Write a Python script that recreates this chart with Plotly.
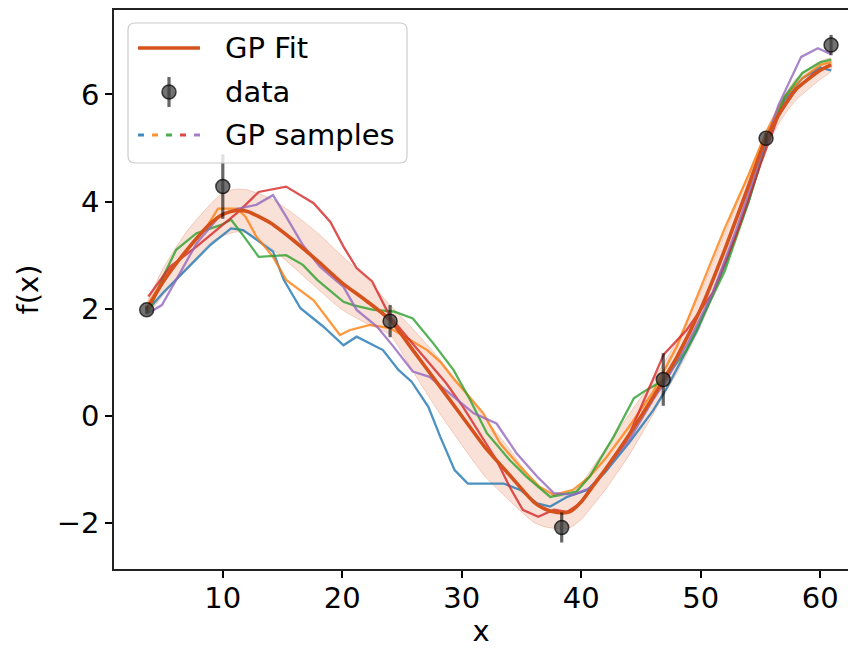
import plotly.graph_objects as go

# ---------------- data ----------------
data_x = [3.63, 10.0, 24.0, 38.36, 46.86, 55.46, 60.9]
data_y = [1.98, 4.28, 1.77, -2.08, 0.68, 5.18, 6.92]
data_err = [0.08, 0.6, 0.3, 0.28, 0.49, 0.1, 0.19]

fit_x = [3.63, 5, 7, 9, 10, 11, 12, 14, 16, 18, 20, 22, 24, 26, 28, 30, 32, 34, 36,
         37, 38, 39, 40, 41, 42, 44, 46, 46.8, 48, 50, 52, 54, 55.4, 57, 58, 60, 60.9]
fit_mean = [1.98, 2.5, 3.1, 3.6, 3.76, 3.83, 3.82, 3.6, 3.26, 2.88, 2.48, 2.15, 1.79, 1.2, 0.6,
            0.0, -0.6, -1.1, -1.6, -1.74, -1.8, -1.79, -1.6, -1.3, -1.0, -0.35, 0.35, 0.65, 1.1,
            2.0, 3.1, 4.3, 5.15, 5.8, 6.1, 6.45, 6.55]
fit_std = [0.12, 0.25, 0.35, 0.36, 0.4, 0.4, 0.4, 0.46, 0.5, 0.52, 0.5, 0.42, 0.28, 0.4, 0.5,
           0.54, 0.54, 0.48, 0.38, 0.33, 0.3, 0.3, 0.33, 0.36, 0.38, 0.38, 0.32, 0.3, 0.3,
           0.32, 0.3, 0.22, 0.15, 0.18, 0.2, 0.17, 0.12]

s1_x = [3.63, 5, 7, 9, 10.7, 11.7, 14.2, 15.1, 16.5, 18.4, 20.1, 21.2, 23.4, 24.7, 25.8, 27.2,
        28.2, 29.4, 30.5, 33.5, 34.9, 36.3, 37.4, 38.8, 40.5, 42, 44, 46, 47.1, 49.7, 52, 54,
        55.5, 57, 58.5, 60, 60.9]
s1_y = [1.95, 2.3, 2.75, 3.2, 3.5, 3.47, 3.07, 2.54, 2.01, 1.67, 1.32, 1.48, 1.23, 0.86, 0.64,
        0.17, -0.39, -1.01, -1.26, -1.26, -1.38, -1.63, -1.69, -1.51, -1.38, -1.05, -0.5, 0.1,
        0.5, 1.6, 2.8, 4.0, 5.1, 5.9, 6.3, 6.5, 6.45]

s2_x = [3.77, 5.5, 7.5, 8.65, 9.6, 11.2, 11.9, 12.8, 14.2, 15.3, 17.6, 19.8, 20.6, 22.3, 24.0,
        25.7, 27.1, 28.2, 29.4, 30.4, 31.8, 33.2, 34.9, 36.5, 37.7, 39.3, 40.7, 42, 44, 46, 48,
        50, 52, 54, 55.5, 57, 58.5, 60, 60.9]
s2_y = [2.1, 2.7, 3.22, 3.53, 3.87, 3.87, 3.72, 3.35, 2.97, 2.54, 2.16, 1.51, 1.6, 1.70, 1.64,
        1.42, 1.23, 1.01, 0.67, 0.42, 0.05, -0.51, -0.95, -1.32, -1.47, -1.38, -1.13, -0.8,
        -0.2, 0.45, 1.3, 2.4, 3.5, 4.5, 5.3, 5.95, 6.3, 6.55, 6.6]

s3_x = [3.77, 5.0, 6.1, 7.8, 9.8, 10.7, 11.9, 13.0, 15.3, 16.7, 17.9, 20.1, 20.9, 22.6, 24.3,
        25.9, 27.6, 29.3, 30.7, 32.1, 34.0, 35.4, 37.4, 39.6, 40.7, 42.7, 44.4, 45.2, 46.9,
        48.8, 49.9, 52, 54, 55.5, 57, 58.5, 60, 60.9]
s3_y = [1.92, 2.6, 3.1, 3.41, 3.56, 3.66, 3.31, 2.97, 3.0, 2.82, 2.54, 2.13, 2.07, 1.98, 1.95,
        1.82, 1.36, 0.86, 0.3, -0.32, -0.82, -1.13, -1.51, -1.41, -1.13, -0.39, 0.33, 0.45,
        0.67, 1.23, 1.73, 2.7, 4.0, 5.1, 5.95, 6.4, 6.6, 6.65]

s4_x = [3.77, 5.6, 7.8, 9.8, 11.3, 13.0, 15.3, 17.6, 19.0, 20.1, 21.2, 22.5, 24.0, 25.4, 27.1,
        28.7, 30.1, 31.5, 32.9, 34.0, 35.1, 36.4, 37.7, 38.8, 39.9, 40.7, 42, 43.8, 45, 46.9,
        48.8, 51, 53, 55, 56.5, 58, 59.5, 60.9]
s4_y = [2.23, 2.79, 3.16, 3.53, 3.81, 4.18, 4.28, 3.97, 3.62, 3.16, 2.76, 2.51, 1.85, 1.48,
        1.04, 0.61, 0.17, -0.32, -0.82, -1.32, -1.75, -1.88, -1.75, -1.79, -1.63, -1.38, -1.0,
        -0.45, 0.17, 1.15, 1.6, 2.3, 3.4, 4.7, 5.6, 6.1, 6.4, 6.55]

s5_x = [3.77, 4.9, 6.1, 7.8, 9.8, 11.3, 12.8, 14.2, 15.3, 16.7, 18.1, 20.1, 21.2, 22.9, 24.3,
        25.9, 27.3, 29.0, 31.0, 32.9, 34.6, 36.3, 37.7, 39.3, 40.7, 42, 44, 46, 47.1, 49, 51,
        53, 55, 56.5, 58.4, 59.8, 60.9]
s5_y = [1.92, 2.07, 2.54, 3.22, 3.75, 3.87, 3.94, 4.12, 3.72, 3.19, 2.79, 2.41, 1.98, 1.67,
        1.29, 0.83, 0.73, 0.42, 0.05, -0.14, -0.70, -1.13, -1.44, -1.47, -1.35, -1.0, -0.45,
        0.3, 0.67, 1.4, 2.3, 3.5, 4.8, 5.8, 6.7, 6.86, 6.75]

sample_colors = ["#1f77b4", "#ff7f0e", "#2ca02c", "#d62728", "#9467bd"]
samples = [(s1_x, s1_y), (s2_x, s2_y), (s3_x, s3_y), (s4_x, s4_y), (s5_x, s5_y)]

legend_labels = ["GP Fit", "data", "GP samples"]
x_ticks = [10, 20, 30, 40, 50, 60]
y_ticks = [-2, 0, 2, 4, 6]

FIT_COLOR = "#d6521c"
FONT = "DejaVu Sans"
FS = 29

# ---------------- layout geometry (pixels) ----------------
W, H = 848, 648
L, R, T, B = 114, 0, 10, 79
PW, PH = W - L - R, H - T - B


def px(x):
    return (x - L) / PW


def py(y):
    return (H - B - y) / PH


fig = go.Figure()

upper = [m + s for m, s in zip(fit_mean, fit_std)]
lower = [m - s for m, s in zip(fit_mean, fit_std)]
fig.add_trace(go.Scatter(x=fit_x + fit_x[::-1], y=upper + lower[::-1], fill="toself",
                         fillcolor="rgba(233,125,80,0.23)",
                         line=dict(color="rgba(215,120,80,0.3)", width=1, shape="spline",
                                   smoothing=0.6),
                         mode="lines", hoverinfo="skip", showlegend=False))

for (sx, sy), c in zip(samples, sample_colors):
    fig.add_trace(go.Scatter(x=sx, y=sy, mode="lines", line=dict(color=c, width=2.3),
                             opacity=0.8, showlegend=False))

fig.add_trace(go.Scatter(x=fit_x, y=fit_mean, mode="lines",
                         line=dict(color=FIT_COLOR, width=3.6, shape="spline", smoothing=0.6),
                         showlegend=False))

fig.add_trace(go.Scatter(x=data_x, y=data_y, mode="markers",
                         marker=dict(size=14, color="rgba(60,60,60,0.72)",
                                     line=dict(color="rgba(0,0,0,0.7)", width=1.5)),
                         error_y=dict(type="data", array=data_err, visible=True,
                                      color="rgba(0,0,0,0.6)", thickness=3.2, width=0),
                         showlegend=False))

# ---------------- custom legend ----------------
x0, x1, y0, y1 = px(128), px(407), py(163), py(23)
rx, ry = 7 / PW, 7 / PH
path = (f"M {x0+rx},{y0} L {x1-rx},{y0} Q {x1},{y0} {x1},{y0+ry} "
        f"L {x1},{y1-ry} Q {x1},{y1} {x1-rx},{y1} L {x0+rx},{y1} Q {x0},{y1} {x0},{y1-ry} "
        f"L {x0},{y0+ry} Q {x0},{y0} {x0+rx},{y0} Z")
shapes = [dict(type="path", path=path, xref="paper", yref="paper",
               fillcolor="rgba(255,255,255,0.8)", line=dict(color="#cccccc", width=1.2),
               layer="above")]
shapes.append(dict(type="line", xref="paper", yref="paper", x0=px(138), x1=px(200),
                   y0=py(48), y1=py(48), line=dict(color=FIT_COLOR, width=3.6), layer="above"))
shapes.append(dict(type="line", xref="paper", yref="paper", x0=px(169), x1=px(169),
                   y0=py(77), y1=py(107), line=dict(color="rgba(0,0,0,0.6)", width=3.2),
                   layer="above"))
shapes.append(dict(type="circle", xref="paper", yref="paper", x0=px(162), x1=px(176),
                   y0=py(99), y1=py(85), fillcolor="rgba(60,60,60,0.72)",
                   line=dict(color="rgba(0,0,0,0.7)", width=1.5), layer="above"))
dash_starts = [138, 152, 166, 180, 194]
for xs, c in zip(dash_starts, sample_colors):
    shapes.append(dict(type="line", xref="paper", yref="paper", x0=px(xs), x1=px(xs + 6),
                       y0=py(135), y1=py(135), line=dict(color=c, width=3), opacity=0.85,
                       layer="above"))

annotations = []
for lbl, yy in zip(legend_labels, [48, 92, 135]):
    annotations.append(dict(text=lbl, xref="paper", yref="paper", x=px(223), y=py(yy),
                            xanchor="left", yanchor="middle", showarrow=False,
                            font=dict(family=FONT, size=FS, color="black")))

fig.update_layout(
    width=W, height=H, margin=dict(l=L, r=R, t=T, b=B, pad=0),
    paper_bgcolor="white", plot_bgcolor="white",
    font=dict(family=FONT, size=FS, color="black"),
    shapes=shapes, annotations=annotations, showlegend=False,
)
fig.update_xaxes(range=[(L - 103.3) / 11.95, (W - 103.3) / 11.95], tickvals=x_ticks,
                 ticks="outside", ticklen=7, tickwidth=1.5, tickcolor="black",
                 ticklabelstandoff=-5,
                 showline=True, linecolor="#222222", linewidth=1.6, mirror=True,
                 showgrid=False, zeroline=False,
                 title=dict(text="x", standoff=8, font=dict(family=FONT, size=FS)),
                 tickfont=dict(family=FONT, size=FS))
fig.update_yaxes(range=[(416 - (H - B)) / 53.6, (416 - T) / 53.6], tickvals=y_ticks,
                 ticks="outside", ticklen=7, tickwidth=1.5, tickcolor="black",
                 showline=True, linecolor="#222222", linewidth=1.6, mirror=False,
                 showgrid=False, zeroline=False,
                 title=dict(text="f(x)", standoff=10, font=dict(family=FONT, size=FS)),
                 tickfont=dict(family=FONT, size=FS))

fig.write_html("out.html")
